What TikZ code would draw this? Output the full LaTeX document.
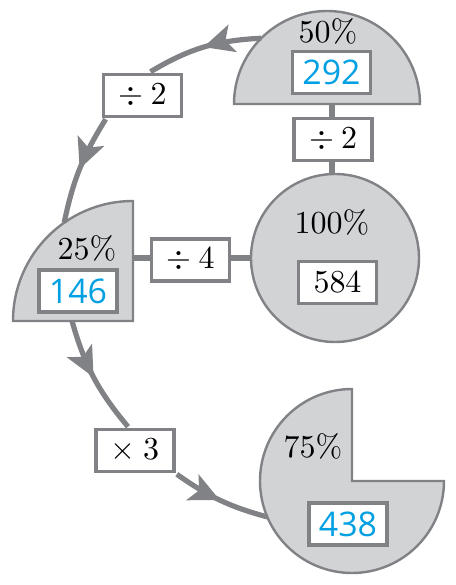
\documentclass[tikz,border=0pt]{standalone}
\usepackage{fontspec}
\newfontfamily\numfont{Open Sans}
\usepackage{tikz}
\usetikzlibrary{arrows.meta, positioning, decorations.markings}
\definecolor{linegray}{RGB}{128, 130, 133}
\definecolor{partgray}{RGB}{209, 211, 212}
\definecolor{numblue}{RGB}{0, 160, 227}

\begin{document}
\begin{tikzpicture}[
  x=0.5pt, y=0.5pt,
  pct/.style={scale=1.6, font=\fontsize{10}{12}\selectfont},
  part/.style={draw=linegray, fill=partgray, line width=1.2pt},
  opbox/.style={pct, rectangle, draw=linegray, fill=white, line width=1.75pt,
               minimum width=24.4pt, minimum height=13.1pt, inner sep=0pt},
  numbox/.style={opbox, text=numblue, font=\fontsize{10.6}{12}\numfont},
  link/.style={draw=linegray, line width=3.2pt},
  flow/.style={draw=linegray, line width=2.6pt, postaction={decorate},
               decoration={markings, mark=at position 0.5 with
                 {\arrow{Stealth[length=15pt, width=14pt, inset=3.5pt, color=linegray]}}}}
]
\useasboundingbox (0,0) rectangle (456,585);

% parts of the whole
\coordinate (hc) at (327,481);
\coordinate (fc) at (335,327);
\coordinate (qc) at (133,264);
\coordinate (tc) at (352,104);
\path[part] (hc) ++(-93,0) arc[start angle=180, end angle=0, radius=93] -- cycle;
\path[part] (fc) circle[radius=84];
\path[part] (qc) -- ++(-120,0) arc[start angle=180, end angle=90, radius=120] -- cycle;
\path[part] (tc) -- ++(0,92) arc[start angle=90, end angle=360, radius=92] -- cycle;

% straight links
\coordinate (hb) at (332,481);
\coordinate (ft) at (332,411);
\coordinate (qr) at (133,327);
\path (fc) ++(180:84) coordinate (fl);
\draw[link] (hb) -- (ft);
\draw[link] (qr) -- (fl);

% labels
\node[pct] (p50) at (328,554) {50\%};
\node[numbox] (v50) at (331.5,512.5) {292};
\node[pct] (p100) at (332,363) {100\%};
\node[opbox] (v100) at (337.5,302.5) {584};
\node[pct] (p25) at (87,336.5) {25\%};
\node[numbox] (v25) at (78,294) {146};
\node[pct] (p75) at (313,139) {75\%};
\node[numbox] (v75) at (348,61) {438};

\node[opbox] (half) at (333,445.5) {$\div\:2$};
\node[opbox] (quarter) at (190.5,325) {$\div\:4$};
\node[opbox] (halfagain) at (142.5,489.5) {$\div\:2$};
\node[opbox] (triple) at (135,134.5) {$\times\:3$};

% curved flow
\path (hc) ++(135:93) coordinate (a1);
\path (qc) ++(125:120) coordinate (a2);
\coordinate (a3) at (72,264);
\path (tc) ++(203:92) coordinate (a4);
\draw[flow] (a1) to[bend right=14] ([xshift=4pt]halfagain.north);
\draw[flow] ([xshift=2.5pt]halfagain.south west) to[bend right=10] (a2);
\draw[flow] (a3) to[bend right=12] ([xshift=-3.5pt]triple.north);
\draw[flow] (triple.south east) to[bend right=10] (a4);

\end{tikzpicture}
\end{document}
